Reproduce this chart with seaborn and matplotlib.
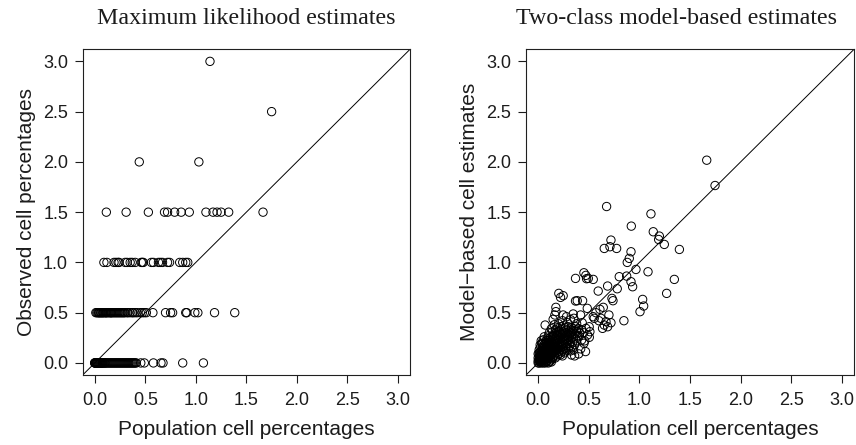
import numpy as np
import pandas as pd
import matplotlib
matplotlib.use("Agg")
import matplotlib.pyplot as plt
import seaborn as sns

# left panel: observed cell percentages come in steps of 0.5
ml_levels = [0.0, 0.5, 1.0, 1.5, 2.0, 2.5, 3.0]
ml_x_000 = [0.00, 0.00, 0.00, 0.01, 0.01, 0.01, 0.02, 0.02, 0.02, 0.03, 0.03, 0.04, 0.04,
            0.05, 0.05, 0.06, 0.06, 0.07, 0.07, 0.08, 0.08, 0.09, 0.10, 0.10, 0.11, 0.12,
            0.13, 0.14, 0.15, 0.16, 0.17, 0.18, 0.19, 0.20, 0.21, 0.22, 0.23, 0.24, 0.25,
            0.26, 0.27, 0.28, 0.29, 0.30, 0.31, 0.32, 0.33, 0.34, 0.35, 0.36, 0.37, 0.38,
            0.39, 0.40, 0.41, 0.455, 0.49, 0.58, 0.655, 0.675, 0.87, 1.075]
ml_x_050 = [0.01, 0.02, 0.03, 0.04, 0.04, 0.05, 0.06, 0.06, 0.07, 0.08, 0.08, 0.09, 0.10,
            0.11, 0.11, 0.12, 0.13, 0.14, 0.15, 0.16, 0.16, 0.17, 0.18, 0.19, 0.20, 0.21,
            0.22, 0.23, 0.24, 0.25, 0.26, 0.27, 0.28, 0.29, 0.30, 0.32, 0.33, 0.35, 0.37,
            0.38, 0.40, 0.42, 0.45, 0.47, 0.49, 0.51, 0.575, 0.70, 0.75, 0.77, 0.90, 0.91,
            0.99, 1.02, 1.185, 1.385]
ml_x_100 = [0.09, 0.12, 0.19, 0.21, 0.23, 0.24, 0.30, 0.32, 0.35, 0.37, 0.40, 0.46, 0.47,
            0.48, 0.56, 0.58, 0.63, 0.65, 0.67, 0.72, 0.74, 0.84, 0.87, 0.90, 0.92]
ml_x_150 = [0.114, 0.31, 0.53, 0.69, 0.72, 0.79, 0.855, 0.935, 1.10, 1.17, 1.21, 1.25,
            1.325, 1.665]
ml_x_200 = [0.44, 1.03]
ml_x_250 = [1.75]
ml_x_300 = [1.14]

# right panel: (population %, model-based estimate)
mb_outer = [(1.665, 2.017), (1.747, 1.765), (0.676, 1.556), (1.114, 1.483), (0.92, 1.361),
            (1.137, 1.305), (1.197, 1.262), (1.19, 1.228), (1.246, 1.179), (1.395, 1.129),
            (0.719, 1.222), (0.653, 1.139), (0.709, 1.156), (0.775, 1.139), (0.917, 1.106),
            (0.90, 1.04), (0.88, 1.0), (0.966, 0.93), (1.085, 0.907), (0.801, 0.858),
            (0.874, 0.864), (1.345, 0.831), (0.917, 0.808), (0.933, 0.758), (1.269, 0.692),
            (0.686, 0.765), (0.593, 0.715), (0.781, 0.738), (0.729, 0.642), (0.739, 0.619),
            (1.032, 0.632), (1.042, 0.566), (1.006, 0.51), (0.847, 0.42), (0.719, 0.40),
            (0.636, 0.344), (0.653, 0.377), (0.60, 0.42), (0.61, 0.533), (0.699, 0.477),
            (0.643, 0.553), (0.57, 0.50), (0.544, 0.46), (0.369, 0.841), (0.452, 0.897),
            (0.471, 0.871), (0.495, 0.841), (0.478, 0.838), (0.544, 0.831), (0.204, 0.692),
            (0.247, 0.669), (0.221, 0.652), (0.369, 0.616), (0.386, 0.619), (0.439, 0.619),
            (0.069, 0.377), (0.175, 0.553), (0.175, 0.51), (0.165, 0.477), (0.247, 0.477),
            (0.28, 0.46), (0.346, 0.487), (0.352, 0.444), (0.419, 0.477), (0.485, 0.543),
            (0.435, 0.40), (0.511, 0.311), (0.505, 0.255), (0.468, 0.113), (0.429, 0.228),
            (0.452, 0.195), (0.406, 0.268), (0.379, 0.328), (0.313, 0.301), (0.148, 0.434),
            (0.234, 0.179), (0.33, 0.079), (0.554, 0.444), (0.62, 0.444), (0.67, 0.41),
            (0.472, 0.344), (0.504, 0.36), (0.488, 0.278), (0.686, 0.36), (0.037, 0.196),
            (0.24, 0.42), (0.29, 0.40), (0.32, 0.43), (0.38, 0.39), (0.45, 0.30),
            (0.46, 0.22), (0.42, 0.14), (0.40, 0.09), (0.36, 0.07)]
mb_core = [(0.00, 0.00), (0.01, 0.00), (0.02, 0.01), (0.03, 0.00), (0.04, 0.01), (0.05, 0.00),
           (0.06, 0.01), (0.07, 0.00), (0.08, 0.01), (0.09, 0.02), (0.10, 0.00), (0.11, 0.01),
           (0.12, 0.02), (0.13, 0.01), (0.00, 0.02), (0.01, 0.03), (0.02, 0.02), (0.03, 0.03),
           (0.04, 0.04), (0.05, 0.03), (0.06, 0.04), (0.07, 0.03), (0.08, 0.04), (0.09, 0.05),
           (0.10, 0.04), (0.12, 0.05), (0.14, 0.04), (0.15, 0.06), (0.00, 0.05), (0.01, 0.06),
           (0.02, 0.05), (0.03, 0.07), (0.04, 0.06), (0.05, 0.07), (0.06, 0.08), (0.07, 0.06),
           (0.08, 0.07), (0.09, 0.08), (0.11, 0.07), (0.13, 0.08), (0.16, 0.08), (0.17, 0.05),
           (0.19, 0.07), (0.00, 0.09), (0.01, 0.10), (0.02, 0.11), (0.03, 0.09), (0.04, 0.10),
           (0.05, 0.11), (0.06, 0.12), (0.07, 0.10), (0.08, 0.11), (0.10, 0.10), (0.11, 0.12),
           (0.12, 0.10), (0.14, 0.11), (0.16, 0.12), (0.18, 0.10), (0.20, 0.09), (0.22, 0.08),
           (0.24, 0.07), (0.01, 0.13), (0.02, 0.15), (0.04, 0.14), (0.05, 0.16), (0.07, 0.14),
           (0.08, 0.15), (0.09, 0.13), (0.10, 0.15), (0.12, 0.14), (0.13, 0.16), (0.15, 0.14),
           (0.17, 0.15), (0.19, 0.13), (0.21, 0.12), (0.23, 0.11), (0.26, 0.10), (0.28, 0.12),
           (0.02, 0.18), (0.04, 0.19), (0.06, 0.18), (0.07, 0.20), (0.09, 0.17), (0.10, 0.19),
           (0.12, 0.18), (0.14, 0.19), (0.15, 0.17), (0.17, 0.18), (0.18, 0.16), (0.20, 0.17),
           (0.22, 0.15), (0.24, 0.16), (0.25, 0.13), (0.27, 0.15), (0.30, 0.14), (0.32, 0.12),
           (0.03, 0.22), (0.05, 0.23), (0.08, 0.22), (0.09, 0.24), (0.11, 0.21), (0.13, 0.22),
           (0.14, 0.24), (0.16, 0.21), (0.18, 0.22), (0.19, 0.20), (0.21, 0.21), (0.23, 0.19),
           (0.25, 0.20), (0.27, 0.18), (0.29, 0.19), (0.31, 0.17), (0.33, 0.16), (0.35, 0.13),
           (0.06, 0.26), (0.10, 0.27), (0.12, 0.25), (0.15, 0.27), (0.17, 0.25), (0.19, 0.26),
           (0.20, 0.24), (0.22, 0.25), (0.24, 0.23), (0.26, 0.24), (0.28, 0.22), (0.30, 0.23),
           (0.32, 0.21), (0.34, 0.20), (0.36, 0.18), (0.38, 0.22), (0.11, 0.30), (0.14, 0.31),
           (0.16, 0.29), (0.18, 0.30), (0.20, 0.28), (0.22, 0.29), (0.24, 0.28), (0.26, 0.27),
           (0.27, 0.30), (0.29, 0.26), (0.31, 0.27), (0.33, 0.25), (0.35, 0.26), (0.37, 0.24),
           (0.39, 0.27), (0.13, 0.34), (0.17, 0.33), (0.19, 0.35), (0.21, 0.32), (0.23, 0.33),
           (0.25, 0.31), (0.28, 0.33), (0.30, 0.31), (0.32, 0.30), (0.34, 0.32), (0.36, 0.29),
           (0.38, 0.31), (0.41, 0.30), (0.16, 0.38), (0.20, 0.39), (0.22, 0.36), (0.25, 0.37),
           (0.27, 0.35), (0.30, 0.36), (0.33, 0.35), (0.35, 0.34), (0.37, 0.36), (0.40, 0.34),
           (0.43, 0.33), (0.02, 0.04), (0.03, 0.05), (0.01, 0.08), (0.05, 0.05), (0.06, 0.06),
           (0.02, 0.07), (0.04, 0.08), (0.03, 0.12), (0.06, 0.10), (0.08, 0.09), (0.07, 0.12),
           (0.015, 0.015), (0.035, 0.025), (0.055, 0.045), (0.075, 0.055), (0.095, 0.075),
           (0.115, 0.095), (0.135, 0.125), (0.155, 0.105), (0.175, 0.135), (0.195, 0.165),
           (0.215, 0.185), (0.235, 0.215), (0.255, 0.225), (0.275, 0.245), (0.295, 0.285),
           (0.025, 0.085), (0.045, 0.125), (0.065, 0.155), (0.085, 0.195), (0.105, 0.225),
           (0.125, 0.205), (0.145, 0.265), (0.165, 0.235), (0.185, 0.275), (0.205, 0.305)]

ticks = [0.0, 0.5, 1.0, 1.5, 2.0, 2.5, 3.0]
tick_labels = ["0.0", "0.5", "1.0", "1.5", "2.0", "2.5", "3.0"]

ml_rows = [ml_x_000, ml_x_050, ml_x_100, ml_x_150, ml_x_200, ml_x_250, ml_x_300]
ml = pd.DataFrame({
    "pop": [x for row in ml_rows for x in row],
    "obs": [lev for lev, row in zip(ml_levels, ml_rows) for _ in row],
})
mb = pd.DataFrame(mb_core + mb_outer, columns=["pop", "est"])

sns.set_style("ticks")
plt.rcParams["font.family"] = ["Liberation Sans", "DejaVu Sans"]
ink = "#1c1c1c"
plt.rcParams.update({
    "text.color": ink, "axes.labelcolor": ink, "xtick.color": ink, "ytick.color": ink,
    "axes.edgecolor": "#202020", "axes.linewidth": 0.8,
    "xtick.major.width": 0.8, "ytick.major.width": 0.8,
    "xtick.major.size": 5.5, "ytick.major.size": 5.5,
})

fig = plt.figure(figsize=(8.56, 4.45), dpi=100)
ax1 = fig.add_axes([0.0966, 0.1573, 0.3824, 0.7319])
ax2 = fig.add_axes([0.6145, 0.1573, 0.3832, 0.7319])

pt = dict(s=36, facecolor="none", edgecolor="black", linewidth=0.7, marker="o", legend=False)
sns.scatterplot(data=ml, x="pop", y="obs", ax=ax1, **pt)
sns.scatterplot(data=mb, x="pop", y="est", ax=ax2, **pt)

for ax, ylab in [(ax1, "Observed cell percentages"), (ax2, "Model\u2212based cell estimates")]:
    ax.axline((0, 0), slope=1, color="black", lw=0.7)
    ax.set_xlim(-0.12, 3.12)
    ax.set_ylim(-0.12, 3.12)
    ax.set_xticks(ticks, tick_labels)
    ax.set_yticks(ticks, tick_labels)
    ax.tick_params(axis="x", labelsize=13, pad=7)
    ax.tick_params(axis="y", labelsize=13, pad=5)
    ax.set_xlabel("Population cell percentages", fontsize=15, labelpad=8)
    ax.set_ylabel(ylab, fontsize=15, labelpad=5)
    for side in ax.spines.values():
        side.set_visible(True)

ax1.set_title("Maximum likelihood estimates", family="Liberation Serif", fontsize=17.3, pad=18)
ax2.set_title("Two-class model-based estimates", family="Liberation Serif", fontsize=17.3,
              pad=18, x=0.46)

fig.savefig("out.png", dpi=100)
